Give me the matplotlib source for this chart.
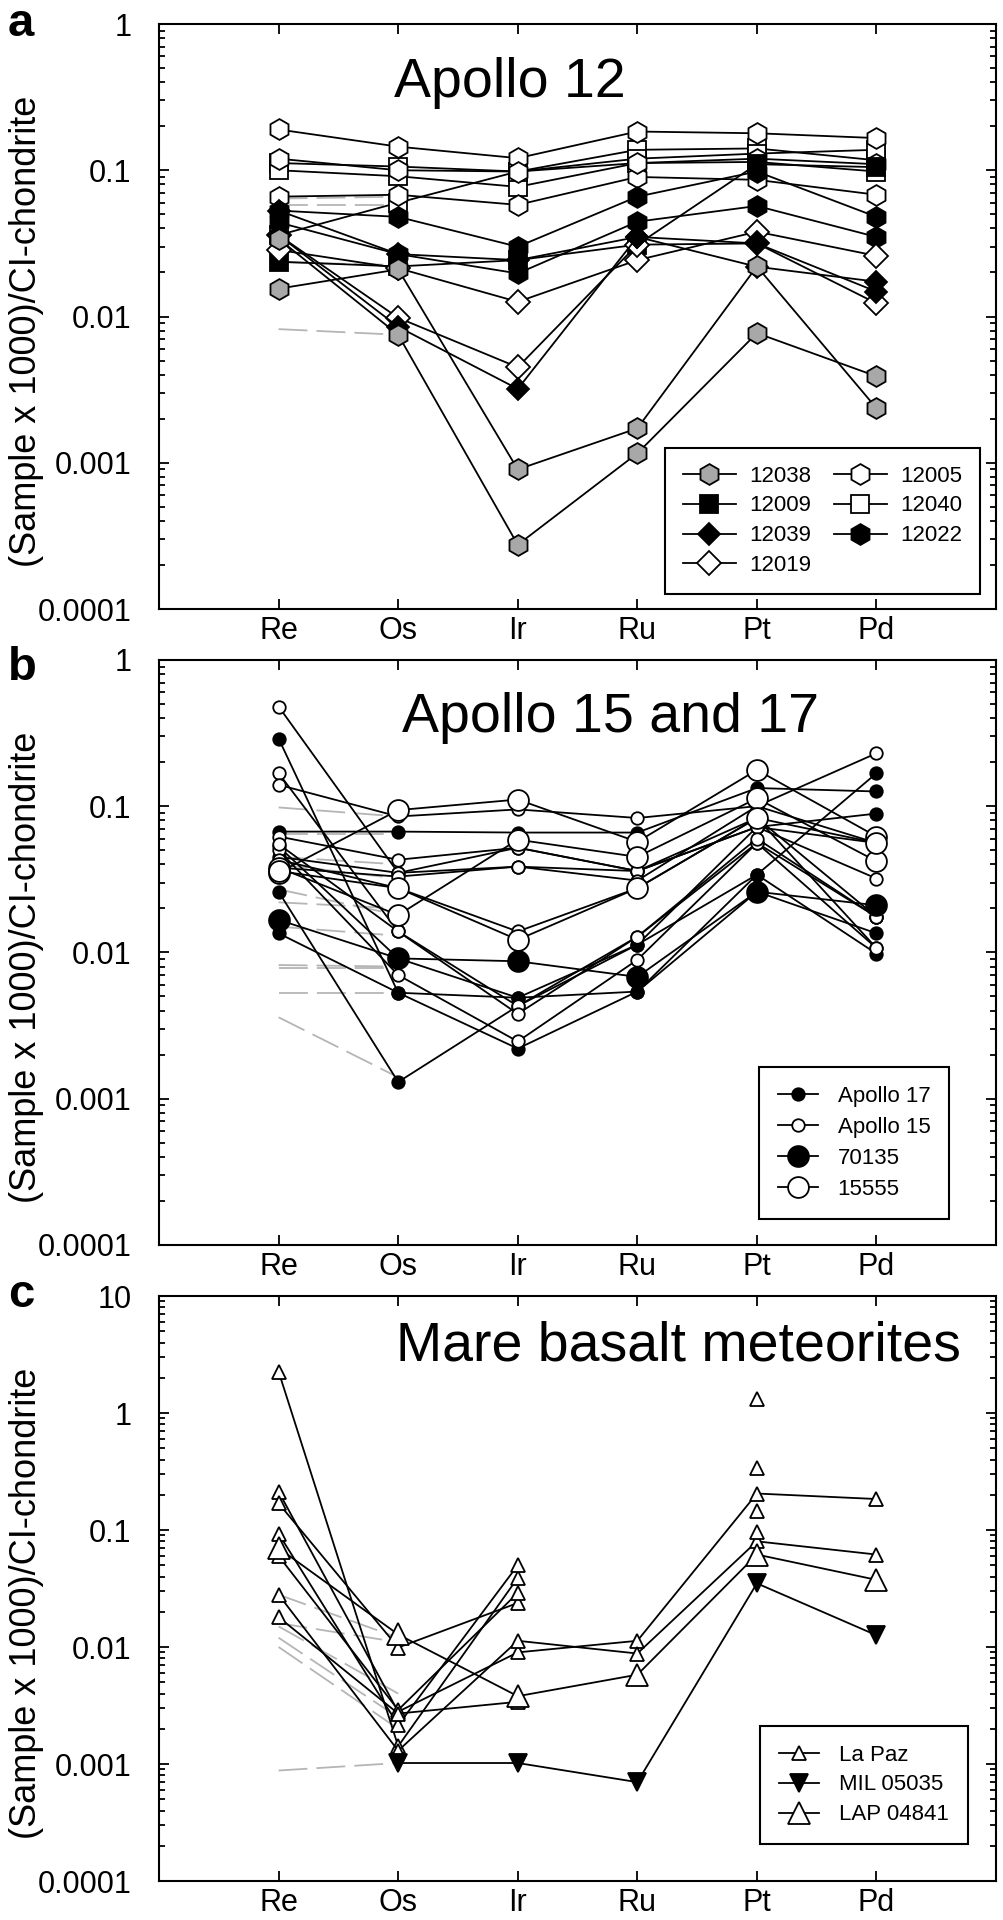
"""
HSE patterns of mare basalts, normalised to CI-chondrite.
Three stacked panels: Apollo 12, Apollo 15/17, mare basalt meteorites.
"""

import numpy as np
import matplotlib
matplotlib.use('Agg')
import matplotlib.pyplot as plt
from matplotlib.lines import Line2D
from matplotlib.ticker import LogLocator, NullFormatter

plt.rcParams['font.family'] = ['Liberation Sans', 'DejaVu Sans']

nan = np.nan
elements = ['Re', 'Os', 'Ir', 'Ru', 'Pt', 'Pd']

# ---------------------------------------------------------------------------
# Panel a: Apollo 12 (values ordered Re, Os, Ir, Ru, Pt, Pd)
# ---------------------------------------------------------------------------
a_12038 = [[0.0155, 0.021, 0.0009, 0.00172, 0.022, 0.00236],
           [0.034, 0.0075, 0.000275, 0.00116, 0.0077, 0.0039]]
a_12009 = [[0.0237, 0.022, 0.0243, 0.031, 0.11, 0.105]]
a_12039 = [[0.036, 0.0085, 0.0032, 0.035, 0.0219, 0.0173],
           [0.053, 0.0267, 0.0243, 0.035, 0.0316, 0.0148]]
a_12019 = [[0.0285, 0.0214, 0.0126, 0.0243, 0.038, 0.026],
           [0.036, 0.0098, 0.0045, 0.031, 0.0316, 0.0123]]
a_12005 = [[0.19, 0.145, 0.121, 0.184, 0.179, 0.166],
           [0.066, 0.068, 0.058, 0.09, 0.086, 0.068],
           [0.12, 0.10, 0.098, 0.112, 0.12, 0.11]]
a_12040 = [[0.112, 0.106, 0.098, 0.138, 0.141, 0.117],
           [0.10, 0.091, 0.077, 0.112, 0.114, 0.098],
           [0.036, 0.06, 0.098, 0.12, 0.13, 0.138]]
a_12022 = [[0.053, 0.048, 0.030, 0.066, 0.098, 0.048],
           [0.044, 0.0267, 0.0197, 0.0445, 0.057, 0.035]]
# grey dashed Re -> Os segments
a_dashed = [[0.064, 0.066], [0.058, 0.058], [0.0235, 0.0225], [0.0082, 0.0075]]

# ---------------------------------------------------------------------------
# Panel b: Apollo 15 and 17
# ---------------------------------------------------------------------------
b_apollo17 = [[0.29, 0.0053, 0.0049, 0.0054, 0.034, 0.168],
              [0.067, 0.067, 0.066, 0.066, 0.133, 0.126],
              [0.026, 0.0013, 0.0043, 0.0113, 0.072, 0.089],
              [0.0135, 0.0053, 0.0022, 0.0054, 0.026, 0.0135],
              [0.053, 0.0091, 0.0049, 0.0113, 0.034, 0.0098],
              [0.045, 0.035, 0.052, 0.036, 0.083, 0.0175]]
b_apollo15 = [[0.48, 0.035, 0.0386, 0.036, 0.072, 0.032],
              [0.168, 0.0139, 0.0043, 0.0128, 0.056, 0.0107],
              [0.14, 0.085, 0.095, 0.083, 0.10, 0.23],
              [0.062, 0.043, 0.052, 0.036, 0.072, 0.056],
              [0.05, 0.007, 0.00246, 0.0089, 0.056, 0.0175],
              [0.043, 0.0275, 0.0139, 0.0275, 0.083, 0.0107],
              [0.038, 0.033, 0.0386, 0.031, 0.1, 0.056],
              [0.055, 0.0139, 0.0038, 0.0128, 0.06, 0.0175]]
b_70135 = [[0.0167, 0.0091, 0.0087, 0.0068, 0.026, 0.021]]
b_15555 = [[0.035, 0.094, 0.111, 0.057, 0.177, 0.062],
           [0.038, 0.018, 0.059, 0.045, 0.113, 0.042],
           [0.036, 0.0275, 0.0122, 0.0275, 0.083, 0.056]]
b_dashed = [[0.098, 0.085], [0.065, 0.065], [0.045, 0.04], [0.04, 0.032],
            [0.027, 0.018], [0.022, 0.02], [0.015, 0.013], [0.0082, 0.008],
            [0.0078, 0.0078], [0.0053, 0.0053], [0.0036, 0.0014]]

# ---------------------------------------------------------------------------
# Panel c: mare basalt meteorites
# ---------------------------------------------------------------------------
c_lapaz = [[2.26, 0.00142, 0.039, nan, nan, nan],
           [0.213, 0.0028, 0.009, 0.0113, 0.205, 0.184],
           [0.169, 0.0099, 0.0238, nan, nan, nan],
           [0.093, 0.00215, 0.05, nan, nan, nan],
           [0.028, 0.0013, 0.0113, 0.0088, 0.08, 0.0617],
           [0.06, 0.0029, 0.029, nan, nan, nan],
           [0.018, 0.0027, 0.0034, nan, nan, nan],
           [nan, nan, nan, nan, 1.32, nan],
           [nan, nan, nan, nan, 0.336, nan],
           [nan, nan, nan, nan, 0.144, nan],
           [nan, nan, nan, nan, 0.097, nan]]
c_mil05035 = [[nan, 0.00102, 0.00102, 0.0007, 0.035, 0.0126]]
c_lap04841 = [[0.07, 0.0128, 0.0038, 0.0058, 0.0617, 0.0375]]
c_dashed = [[0.028, 0.012], [0.016, 0.011], [0.015, 0.004], [0.012, 0.0025],
            [0.010, 0.002], [0.00088, 0.00102]]

x = np.arange(1, 7)

DASH_GREY = '#b5b5b5'
LW = 1.3


def style(marker, ms, fc):
    return dict(marker=marker, ms=ms, mfc=fc, mec='black', mew=1.3,
                color='black', lw=LW)


def draw_series(ax, series, st):
    for vals in series:
        ax.plot(x, vals, zorder=3, **st)


def draw_dashed(ax, segs):
    for seg in segs:
        ax.plot(x[:2], seg, color=DASH_GREY, lw=1.3, dashes=(16, 5), zorder=1)


def setup_axes(ax, ymax, yticks, ylabels):
    ax.set_yscale('log')
    ax.set_ylim(1e-4, ymax)
    ax.set_xlim(0, 7)
    ax.set_xticks(x, elements)
    ax.set_yticks(yticks, ylabels)
    ax.yaxis.set_minor_locator(LogLocator(base=10, subs=np.arange(2, 10), numticks=100))
    ax.yaxis.set_minor_formatter(NullFormatter())
    ax.tick_params(which='both', direction='in', top=True, right=True, width=1.3)
    ax.tick_params(which='major', length=7)
    ax.tick_params(which='minor', length=4.5)
    ax.tick_params(axis='y', labelsize=22, pad=20)
    ax.tick_params(axis='x', labelsize=22, pad=5)
    for s in ax.spines.values():
        s.set_linewidth(1.5)
    ax.set_ylabel('(Sample x 1000)/CI-chondrite', fontsize=26)
    ax.yaxis.set_label_coords(-0.137, 0.475)


def add_legend(ax, entries, anchor, **kw):
    handles = [Line2D([], [], label=lab, **st) for lab, st in entries]
    leg = ax.legend(handles=handles, loc='lower right', bbox_to_anchor=anchor,
                    bbox_transform=ax.transAxes, borderaxespad=0, fontsize=16,
                    fancybox=False, edgecolor='black', framealpha=1, **kw)
    leg.get_frame().set_linewidth(1.5)
    leg.set_zorder(5)
    return leg


fig = plt.figure(figsize=(10.04, 19.2), dpi=100)
L, W, H = 0.1584, 0.8337, 0.3047
ax_a = fig.add_axes([L, 0.6828, W, H])
ax_b = fig.add_axes([L, 0.3516, W, H])
ax_c = fig.add_axes([L, 0.0203, W, H])

dec4 = [1e-4, 1e-3, 1e-2, 1e-1, 1]
lab4 = ['0.0001', '0.001', '0.01', '0.1', '1']

# ---- panel a ---------------------------------------------------------------
st_a = {
    '12038': style('h', 15, '#a8a8a8'),
    '12009': style('s', 13, 'black'),
    '12039': style('D', 11, 'black'),
    '12019': style('D', 12, 'white'),
    '12005': style('h', 15, 'white'),
    '12040': style('s', 13, 'white'),
    '12022': style('h', 15, 'black'),
}
draw_dashed(ax_a, a_dashed)
for key, ser in [('12040', a_12040), ('12005', a_12005), ('12022', a_12022),
                 ('12009', a_12009), ('12019', a_12019), ('12039', a_12039),
                 ('12038', a_12038)]:
    draw_series(ax_a, ser, st_a[key])
setup_axes(ax_a, 1, dec4, lab4)
ax_a.text(0.419, 0.875, 'Apollo 12', transform=ax_a.transAxes, fontsize=40,
          ha='center', va='baseline')
add_legend(ax_a, [(k, st_a[k]) for k in ['12038', '12009', '12039', '12019',
                                         '12005', '12040', '12022']],
           (0.981, 0.0256), ncol=2, handlelength=2.4, handletextpad=0.6,
           columnspacing=1.0, labelspacing=0.4, borderpad=0.8)

# ---- panel b ---------------------------------------------------------------
st_b = {
    'Apollo 17': style('o', 9, 'black'),
    'Apollo 15': style('o', 9, 'white'),
    '70135': style('o', 15, 'black'),
    '15555': style('o', 15, 'white'),
}
draw_dashed(ax_b, b_dashed)
draw_series(ax_b, b_apollo17, st_b['Apollo 17'])
draw_series(ax_b, b_apollo15, st_b['Apollo 15'])
draw_series(ax_b, b_70135, st_b['70135'])
draw_series(ax_b, b_15555, st_b['15555'])
setup_axes(ax_b, 1, dec4, lab4)
ax_b.text(0.539, 0.877, 'Apollo 15 and 17', transform=ax_b.transAxes,
          fontsize=40, ha='center', va='baseline')
add_legend(ax_b, list(st_b.items()), (0.944, 0.0444), handlelength=1.8,
           handletextpad=0.9, labelspacing=0.45, borderpad=0.85)

# ---- panel c ---------------------------------------------------------------
st_c = {
    'La Paz': style('^', 10, 'white'),
    'MIL 05035': style('v', 13, 'black'),
    'LAP 04841': style('^', 16, 'white'),
}
draw_dashed(ax_c, c_dashed)
draw_series(ax_c, c_lapaz, st_c['La Paz'])
draw_series(ax_c, c_lap04841, st_c['LAP 04841'])
draw_series(ax_c, c_mil05035, st_c['MIL 05035'])
setup_axes(ax_c, 10, dec4 + [10], lab4 + ['10'])
ax_c.text(0.62, 0.89, 'Mare basalt meteorites', transform=ax_c.transAxes,
          fontsize=40, ha='center', va='baseline')
add_legend(ax_c, list(st_c.items()), (0.9665, 0.063), handlelength=1.8,
           handletextpad=0.9, labelspacing=0.4, borderpad=0.85)

# panel letters
for lab, ybase in [('a', 36), ('b', 680), ('c', 1307)]:
    fig.text(8 / 1004, 1 - ybase / 1920, lab, fontsize=34, fontweight='bold',
             va='baseline', ha='left')

fig.savefig('out.png', dpi=100)
